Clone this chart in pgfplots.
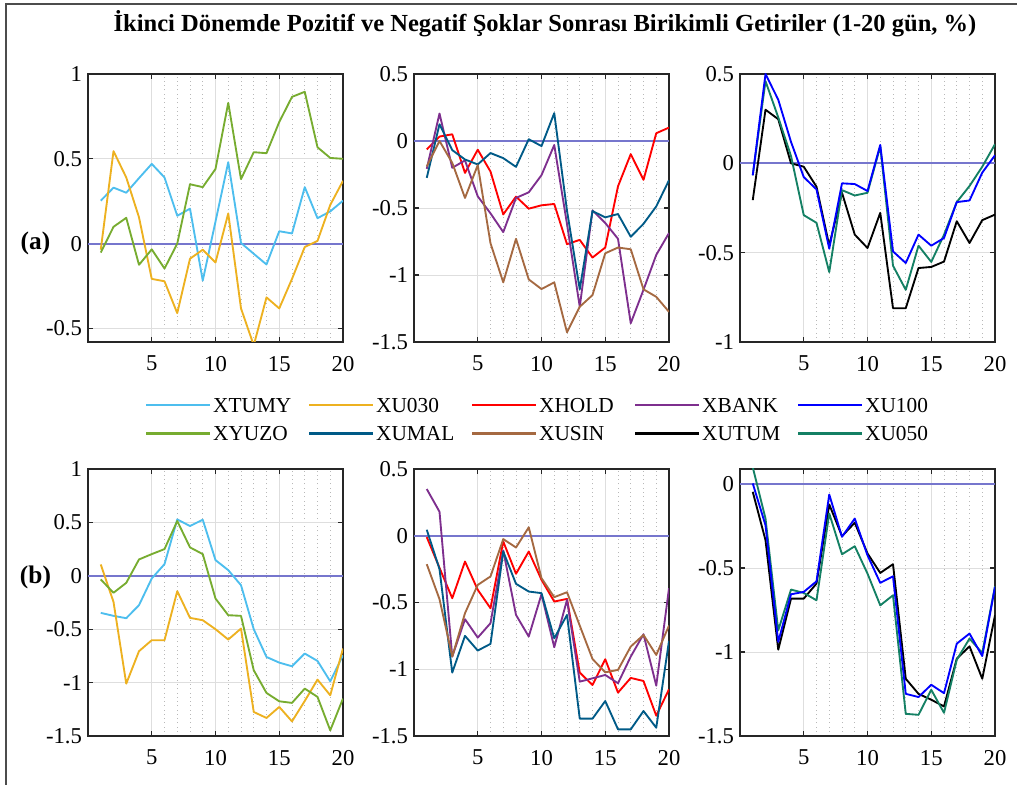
\documentclass[border=0pt]{standalone}
\usepackage{fontspec}
\setmainfont{Liberation Serif}
\usepackage{pgfplots}
\usepackage{pgfplotstable}
\pgfplotsset{compat=1.18}

\definecolor{cTUMY}{RGB}{77,190,238}
\definecolor{cU030}{RGB}{237,177,32}
\definecolor{cHOLD}{RGB}{255,0,0}
\definecolor{cBANK}{RGB}{126,47,142}
\definecolor{cU100}{RGB}{0,0,255}
\definecolor{cYUZO}{RGB}{119,172,48}
\definecolor{cUMAL}{RGB}{0,90,135}
\definecolor{cUSIN}{RGB}{165,105,65}
\definecolor{cUTUM}{RGB}{0,0,0}
\definecolor{cU050}{RGB}{20,128,100}
\definecolor{zline}{RGB}{118,118,205}

\pgfplotstableread{
x tumy u030 yuzo
1 0.253 -0.036 -0.053
2 0.33 0.545 0.099
3 0.30 0.39 0.152
4 0.386 0.155 -0.125
5 0.47 -0.208 -0.034
6 0.39 -0.222 -0.147
7 0.164 -0.41 0.0
8 0.206 -0.089 0.35
9 -0.218 -0.036 0.333
10 0.13 -0.111 0.44
11 0.48 0.178 0.83
12 0.004 -0.382 0.38
13 -0.06 -0.6 0.539
14 -0.123 -0.317 0.533
15 0.073 -0.382 0.717
16 0.06 -0.208 0.865
17 0.333 -0.02 0.895
18 0.15 0.016 0.568
19 0.19 0.228 0.505
20 0.253 0.37 0.50
}\tAa

\pgfplotstableread{
x hold bank umal usin
1 -0.063 -0.208 -0.275 -0.19
2 0.033 0.205 0.125 0.0
3 0.05 -0.2 -0.068 -0.163
4 -0.238 -0.145 -0.138 -0.425
5 -0.065 -0.413 -0.175 -0.18
6 -0.228 -0.54 -0.09 -0.763
7 -0.548 -0.68 -0.128 -1.055
8 -0.415 -0.425 -0.193 -0.73
9 -0.505 -0.383 0.013 -1.033
10 -0.48 -0.255 -0.038 -1.105
11 -0.47 -0.03 0.208 -1.055
12 -0.77 -0.62 -0.52 -1.428
13 -0.738 -1.237 -1.107 -1.237
14 -0.87 -0.518 -0.523 -1.15
15 -0.795 -0.612 -0.57 -0.838
16 -0.338 -0.73 -0.545 -0.795
17 -0.098 -1.36 -0.715 -0.808
18 -0.29 -1.11 -0.618 -1.107
19 0.058 -0.85 -0.488 -1.163
20 0.10 -0.687 -0.293 -1.275
}\tAb

\pgfplotstableread{
x u100 utum u050
1 -0.067 -0.206 -0.067
2 0.5 0.30 0.46
3 0.356 0.247 0.257
4 0.12 0.0 0.041
5 -0.077 -0.019 -0.29
6 -0.146 -0.131 -0.333
7 -0.478 -0.46 -0.609
8 -0.112 -0.165 -0.15
9 -0.116 -0.399 -0.18
10 -0.155 -0.474 -0.165
11 0.103 -0.277 0.094
12 -0.493 -0.811 -0.573
13 -0.558 -0.811 -0.708
14 -0.399 -0.586 -0.461
15 -0.461 -0.58 -0.552
16 -0.418 -0.55 -0.4
17 -0.217 -0.324 -0.217
18 -0.208 -0.446 -0.127
19 -0.052 -0.318 -0.019
20 0.045 -0.287 0.107
}\tAc

\pgfplotstableread{
x tumy u030 yuzo
1 -0.347 0.106 -0.034
2 -0.375 -0.244 -0.159
3 -0.397 -1.01 -0.066
4 -0.275 -0.706 0.153
5 -0.025 -0.603 0.203
6 0.109 -0.603 0.25
7 0.528 -0.144 0.513
8 0.466 -0.394 0.266
9 0.525 -0.416 0.203
10 0.147 -0.5 -0.213
11 0.053 -0.597 -0.369
12 -0.088 -0.494 -0.375
13 -0.5 -1.275 -0.884
14 -0.76 -1.331 -1.097
15 -0.813 -1.228 -1.175
16 -0.847 -1.363 -1.19
17 -0.728 -1.172 -1.056
18 -0.797 -0.972 -1.134
19 -0.988 -1.119 -1.447
20 -0.744 -0.681 -1.15
}\tBa

\pgfplotstableread{
x hold bank umal usin
1 -0.01 0.35 0.045 -0.213
2 -0.24 0.18 -0.25 -0.475
3 -0.468 -0.905 -1.025 -0.905
4 -0.193 -0.625 -0.75 -0.58
5 -0.405 -0.763 -0.86 -0.368
6 -0.543 -0.655 -0.81 -0.305
7 -0.043 -0.11 -0.118 -0.025
8 -0.285 -0.593 -0.36 -0.088
9 -0.118 -0.755 -0.418 0.063
10 -0.33 -0.438 -0.43 -0.318
11 -0.493 -0.835 -0.768 -0.46
12 -0.473 -0.48 -0.593 -0.423
13 -1.025 -1.093 -1.37 -0.673
14 -1.118 -1.068 -1.37 -0.923
15 -0.925 -1.043 -1.238 -1.023
16 -1.175 -1.105 -1.45 -1.005
17 -1.065 -0.905 -1.45 -0.83
18 -1.088 -0.738 -1.313 -0.743
19 -1.348 -1.123 -1.438 -0.893
20 -1.15 -0.393 -0.788 -0.673
}\tBb

\pgfplotstableread{
x u100 utum u050
1 0.004 -0.046 0.10
2 -0.245 -0.334 -0.205
3 -0.94 -0.986 -0.871
4 -0.656 -0.682 -0.628
5 -0.642 -0.682 -0.648
6 -0.579 -0.592 -0.692
7 -0.062 -0.121 -0.175
8 -0.314 -0.31 -0.418
9 -0.205 -0.23 -0.37
10 -0.424 -0.413 -0.533
11 -0.588 -0.529 -0.722
12 -0.549 -0.477 -0.662
13 -1.249 -1.159 -1.368
14 -1.268 -1.249 -1.374
15 -1.195 -1.284 -1.225
16 -1.245 -1.324 -1.362
17 -0.95 -1.04 -1.046
18 -0.89 -0.966 -0.92
19 -1.024 -1.159 -1.006
20 -0.612 -0.781 -0.608
}\tBc

\pgfplotsset{
  panel/.style={
    scale only axis,
    anchor=south west,
    width=191.25pt,
    xmin=0, xmax=20,
    xtick={5,10,15,20},
    minor x tick num=4,
    xmajorgrids, ymajorgrids, xminorgrids,
    major grid style={black!13, line width=0.6pt},
    minor grid style={black!28, line width=0.5pt, dash pattern=on 0.6pt off 2.6pt},
    tick align=inside,
    major tick length=4pt,
    minor tick length=0pt,
    axis line style={line width=1.5pt, black!85},
    tick style={black!85, line width=1pt},
    ticklabel style={font=\rmfamily\fontsize{17}{19}\selectfont},
    xticklabel style={yshift=-7pt},
    yticklabel style={xshift=-1pt},
    /pgf/number format/assume math mode=true,
    every axis plot/.append style={line width=1.4pt, line join=round},
  },
  zl/.style={zline, line width=1.5pt, forget plot},
}

\begin{document}
\begin{tikzpicture}
\useasboundingbox (0,0) rectangle (762.75pt,588.75pt);
\draw[line width=1.5pt, black!70] (4.5pt,0) -- (4.5pt,585.75pt) -- (762.75pt,585.75pt);
\node[font=\rmfamily\fontsize{18.4}{21}\selectfont\bfseries] at (408.75pt,571pt) {İkinci Dönemde Pozitif ve Negatif Şoklar Sonrası Birikimli Getiriler (1-20 gün, \%)};
\node[font=\rmfamily\fontsize{19}{21}\selectfont\bfseries] at (26.6pt,406.5pt) {(a)};
\node[font=\rmfamily\fontsize{19}{21}\selectfont\bfseries] at (26.6pt,156pt) {(b)};

% ---- (a) panel 1 with legend
\begin{axis}[panel, at={(66pt,332.25pt)}, height=201pt,
  ymin=-0.58, ymax=1, ytick={-0.5,0,0.5,1},
  legend columns=5,
  legend style={draw=none, fill=none, inner sep=0pt,
    at={(axis description cs:0.2235,-0.198)}, anchor=north west,
    font=\rmfamily\fontsize{16}{18}\selectfont,
    nodes={inner sep=0pt},
    row sep=7.5pt,
    /tikz/every odd column/.append style={column sep=1.25pt},
  },
  legend image code/.code={\draw[#1, line width=1.7pt] (0pt,0pt) -- (48pt,0pt);},
]
\addlegendimage{cTUMY}
\addlegendimage{cU030}
\addlegendimage{cHOLD}
\addlegendimage{cBANK}
\addlegendimage{cU100}
\addlegendimage{cYUZO}
\addlegendimage{cUMAL}
\addlegendimage{cUSIN}
\addlegendimage{cUTUM}
\addlegendimage{cU050}
\legend{\makebox[71.3pt][l]{\strut XTUMY},\makebox[71.3pt][l]{\strut XU030},\makebox[71.3pt][l]{\strut XHOLD},\makebox[71.3pt][l]{\strut XBANK},\makebox[71.3pt][l]{\strut XU100},\makebox[71.3pt][l]{\strut XYUZO},\makebox[71.3pt][l]{\strut XUMAL},\makebox[71.3pt][l]{\strut XUSIN},\makebox[71.3pt][l]{\strut XUTUM},\makebox[71.3pt][l]{\strut XU050}}
\addplot[zl] coordinates {(0,0) (20,0)};
\addplot[cTUMY, forget plot] table[x=x,y=tumy]{\tAa};
\addplot[cU030, forget plot] table[x=x,y=u030]{\tAa};
\addplot[cYUZO, forget plot] table[x=x,y=yuzo]{\tAa};
\end{axis}

% ---- (a) panel 2
\begin{axis}[panel, at={(310.5pt,332.25pt)}, height=201pt,
  ymin=-1.5, ymax=0.5, ytick={-1.5,-1,-0.5,0,0.5}]
\addplot[zl] coordinates {(0,0) (20,0)};
\addplot[cHOLD] table[x=x,y=hold]{\tAb};
\addplot[cBANK] table[x=x,y=bank]{\tAb};
\addplot[cUMAL] table[x=x,y=umal]{\tAb};
\addplot[cUSIN] table[x=x,y=usin]{\tAb};
\end{axis}

% ---- (a) panel 3
\begin{axis}[panel, at={(555pt,332.25pt)}, height=201pt,
  ymin=-1, ymax=0.5, ytick={-1,-0.5,0,0.5}]
\addplot[zl] coordinates {(0,0) (20,0)};
\addplot[cUTUM] table[x=x,y=utum]{\tAc};
\addplot[cU050] table[x=x,y=u050]{\tAc};
\addplot[cU100] table[x=x,y=u100]{\tAc};
\end{axis}

% ---- (b) panel 1
\begin{axis}[panel, at={(66pt,36.75pt)}, height=200.25pt,
  ymin=-1.5, ymax=1, ytick={-1.5,-1,-0.5,0,0.5,1}]
\addplot[zl] coordinates {(0,0) (20,0)};
\addplot[cTUMY] table[x=x,y=tumy]{\tBa};
\addplot[cU030] table[x=x,y=u030]{\tBa};
\addplot[cYUZO] table[x=x,y=yuzo]{\tBa};
\end{axis}

% ---- (b) panel 2
\begin{axis}[panel, at={(310.5pt,36.75pt)}, height=200.25pt,
  ymin=-1.5, ymax=0.5, ytick={-1.5,-1,-0.5,0,0.5}]
\addplot[zl] coordinates {(0,0) (20,0)};
\addplot[cHOLD] table[x=x,y=hold]{\tBb};
\addplot[cBANK] table[x=x,y=bank]{\tBb};
\addplot[cUMAL] table[x=x,y=umal]{\tBb};
\addplot[cUSIN] table[x=x,y=usin]{\tBb};
\end{axis}

% ---- (b) panel 3
\begin{axis}[panel, at={(555pt,36.75pt)}, height=200.25pt,
  ymin=-1.5, ymax=0.09, ytick={-1.5,-1,-0.5,0}]
\addplot[zl] coordinates {(0,0) (20,0)};
\addplot[cUTUM] table[x=x,y=utum]{\tBc};
\addplot[cU050] table[x=x,y=u050]{\tBc};
\addplot[cU100] table[x=x,y=u100]{\tBc};
\end{axis}
\end{tikzpicture}
\end{document}
